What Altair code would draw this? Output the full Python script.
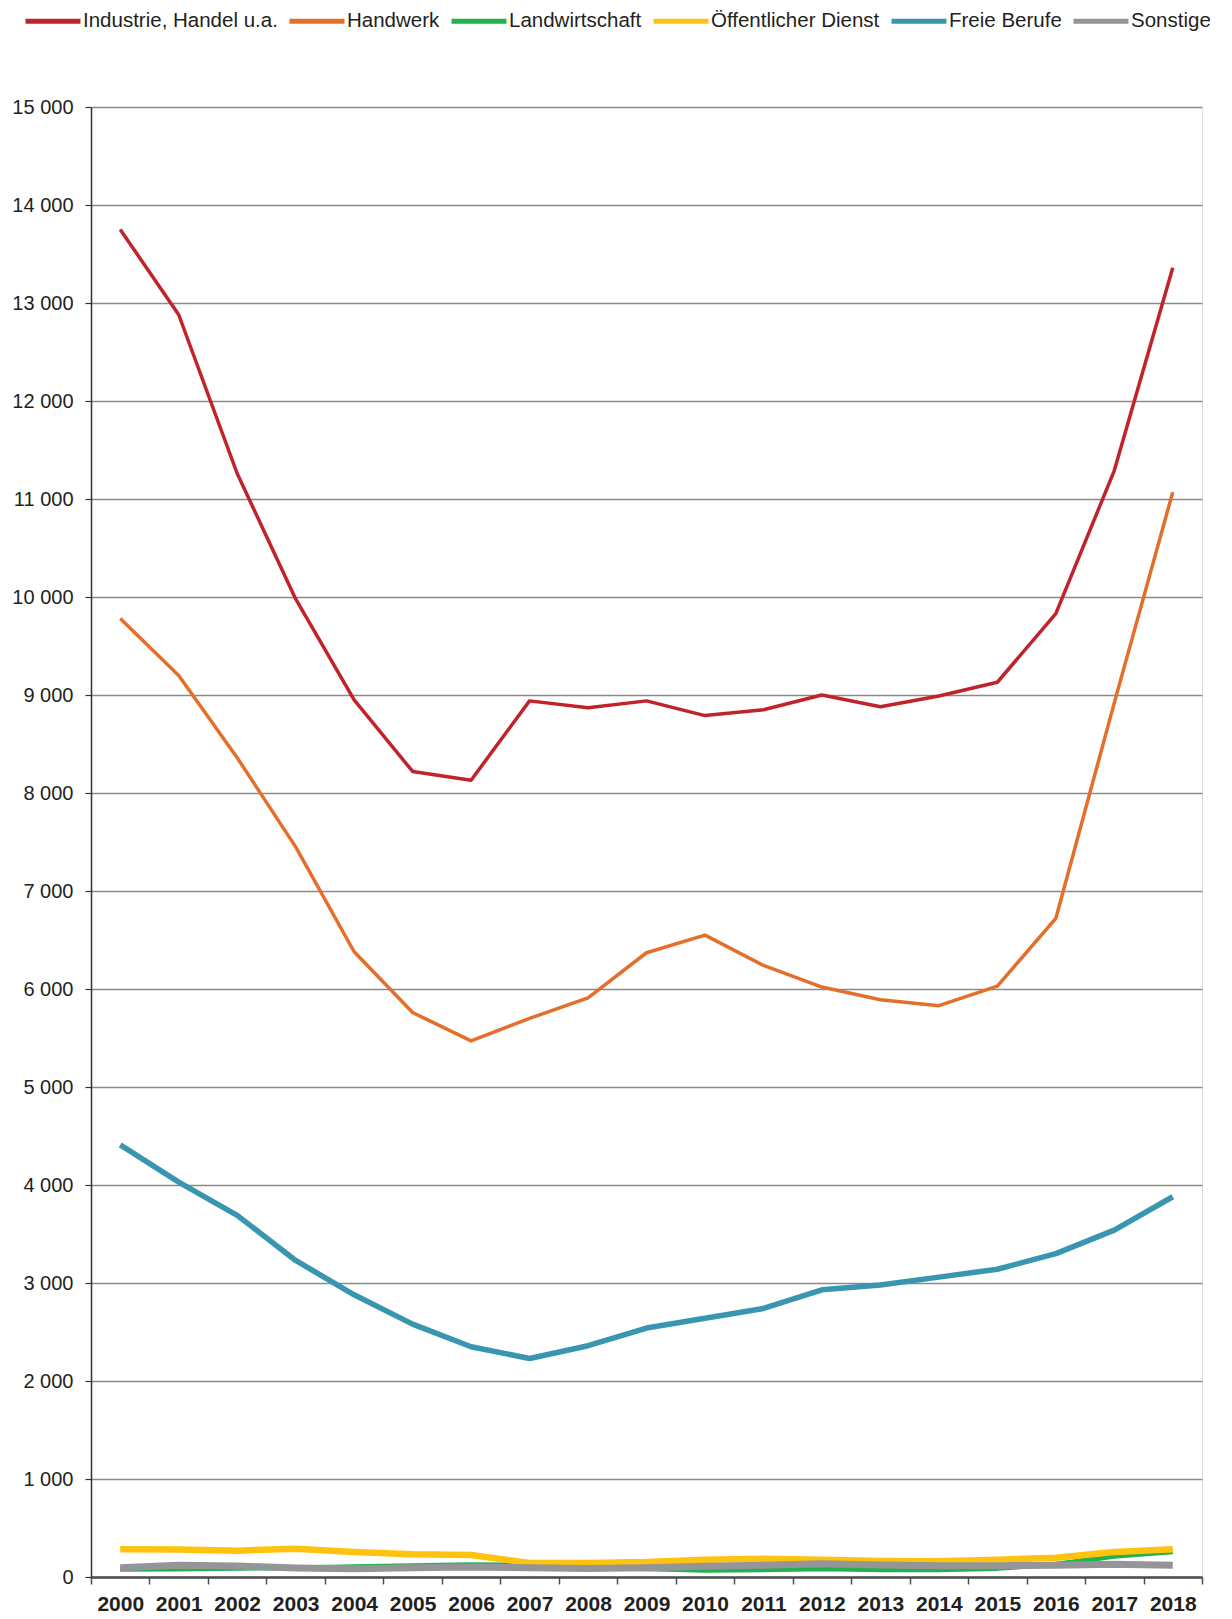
import altair as alt
import pandas as pd

years = list(range(2000, 2019))
series_names = ["Industrie, Handel u.a.", "Handwerk", "Landwirtschaft",
                "Öffentlicher Dienst", "Freie Berufe", "Sonstige"]
colors = ["#C1232B", "#E46F2A", "#22B14C", "#FFC20E", "#3996B0", "#939598"]
widths = [3.5, 3.5, 5, 6.5, 5.5, 7]

industrie = [13750, 12880, 11260, 9980, 8950, 8220, 8130, 8940, 8870, 8940,
             8790, 8850, 9000, 8880, 8990, 9130, 9830, 11290, 13360]
handwerk = [9780, 9200, 8360, 7450, 6380, 5760, 5470, 5700, 5910, 6370,
            6550, 6240, 6020, 5890, 5830, 6030, 6720, 8920, 11070]
landwirtschaft = [78, 82, 90, 92, 105, 115, 126, 122, 95, 85,
                  68, 75, 85, 75, 75, 88, 130, 211, 258]
oeffentlich = [282, 280, 269, 289, 255, 231, 224, 143, 143, 153,
               177, 187, 177, 163, 160, 177, 197, 255, 282]
freie = [4410, 4030, 3690, 3230, 2880, 2580, 2350, 2230, 2360, 2540,
         2640, 2740, 2930, 2980, 3060, 3140, 3300, 3540, 3880]
sonstige = [95, 119, 112, 92, 85, 95, 102, 95, 88, 95,
            109, 119, 136, 122, 116, 116, 119, 129, 119]

all_values = [industrie, handwerk, landwirtschaft, oeffentlich, freie, sonstige]

rows = []
for name, vals, w in zip(series_names, all_values, widths):
    for yr, v in zip(years, vals):
        rows.append({"year": str(yr), "series": name, "value": v, "sw": w})
df = pd.DataFrame(rows)

FONT = "Liberation Sans, Arial, sans-serif"

chart = alt.Chart(df).mark_line(strokeJoin="round").encode(
    x=alt.X("year:O", sort=[str(y) for y in years],
            scale=alt.Scale(type="band", paddingInner=0, paddingOuter=0),
            axis=alt.Axis(title=None, labelAngle=0, tickBand="extent",
                          domainColor="#4d4d4d", domainWidth=2.5,
                          tickColor="#4d4d4d", tickWidth=1.5, tickSize=7,
                          labelFont=FONT, labelFontWeight="bold", labelFontSize=21,
                          labelColor="#231f20", labelPadding=9, grid=False)),
    y=alt.Y("value:Q", scale=alt.Scale(domain=[0, 15000], nice=False),
            axis=alt.Axis(title=None, values=list(range(0, 15001, 1000)),
                          labelExpr="replace(format(datum.value, ','), ',', ' ')",
                          domainColor="#333333", domainWidth=1.5,
                          tickColor="#333333", tickWidth=1.2, tickSize=6,
                          grid=True, gridColor="#8a8a8a", gridWidth=1.3,
                          labelFont=FONT, labelFontSize=20, labelColor="#231f20",
                          labelPadding=12)),
    color=alt.Color("series:N", sort=series_names,
                    scale=alt.Scale(domain=series_names, range=colors),
                    legend=alt.Legend(title=None, orient="none", direction="horizontal",
                                      legendX=-68, legendY=-116,
                                      symbolType="stroke", symbolSize=3025,
                                      symbolStrokeWidth=5, labelFont=FONT,
                                      labelFontSize=20.5, labelColor="#231f20",
                                      labelOffset=0, columnPadding=1,
                                      labelLimit=400)),
    strokeWidth=alt.StrokeWidth("sw:Q", scale=None, legend=None),
).properties(
    width=1111, height=1470,
    autosize=alt.AutoSizeParams(type="none"),
    padding={"left": 83, "top": 99, "right": 20, "bottom": 40},
).configure_view(stroke="#8c8c8c", strokeWidth=3).configure(background="white")

chart.save("out.html", embed_options={"renderer": "svg", "actions": False})
